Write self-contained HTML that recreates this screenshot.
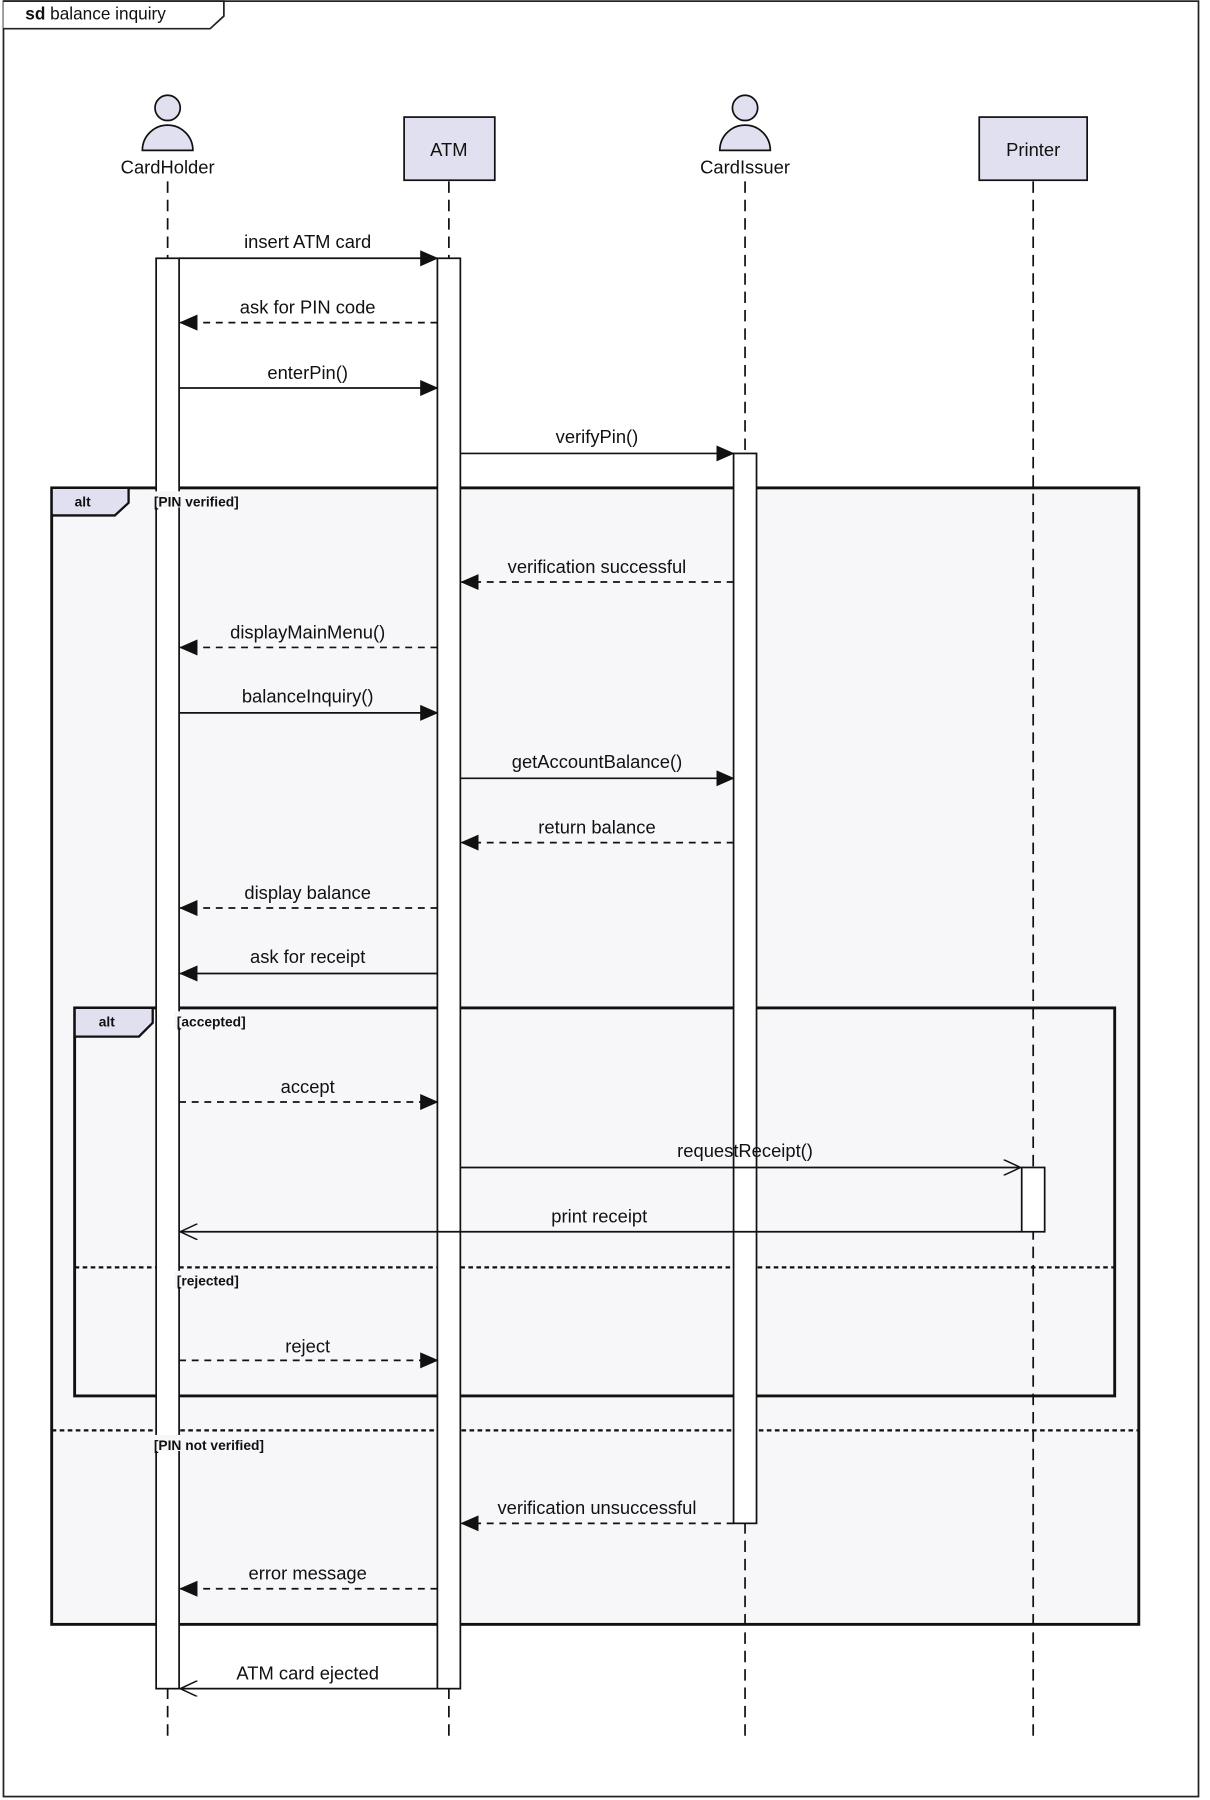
<!DOCTYPE html>
<html><head><meta charset="utf-8"><style>
html,body{margin:0;padding:0;background:#fff;}
svg{display:block;}
text{font-family:"Liberation Sans",sans-serif;fill:#111;}
</style></head><body>
<svg width="1210" height="1800" viewBox="0 0 1054 1568" xmlns="http://www.w3.org/2000/svg">
<defs>
<marker id="f" markerWidth="16" markerHeight="14" refX="15" refY="7" orient="auto" markerUnits="userSpaceOnUse"><path d="M0,0 L16,7 L0,14 z" fill="#111"/></marker>
<marker id="o" markerWidth="16" markerHeight="14" refX="15" refY="7" orient="auto" markerUnits="userSpaceOnUse"><path d="M0,0 L15,7 L0,14" fill="none" stroke="#111" stroke-width="1.3"/></marker>
</defs>
<rect x="3" y="1" width="1041" height="1564" fill="#fff" stroke="#222" stroke-width="1.5"/>
<path d="M3,1 H195 V14 L183,25 H3" fill="#fff" stroke="#222" stroke-width="1.5"/>
<text x="22" y="17" font-size="15"><tspan font-weight="bold">sd</tspan> balance inquiry</text>

<rect x="45" y="425" width="947" height="990" fill="#f7f7f9" stroke="#111" stroke-width="2.5"/>
<path d="M45,425 H112 V438 L100,449 H45 z" fill="#e1e0f0" stroke="#111" stroke-width="2"/>
<text x="65" y="441" font-size="12" font-weight="bold">alt</text>
<line x1="45" y1="1246" x2="992" y2="1246" stroke="#111" stroke-width="2" stroke-dasharray="4,3"/>
<rect x="65" y="878" width="906" height="338" fill="#f7f7f9" stroke="#111" stroke-width="2.5"/>
<path d="M65,878 H133 V891 L121,903 H65 z" fill="#e1e0f0" stroke="#111" stroke-width="2"/>
<text x="86" y="894" font-size="12" font-weight="bold">alt</text>
<line x1="65" y1="1104" x2="971" y2="1104" stroke="#111" stroke-width="2" stroke-dasharray="4,3"/>

<g stroke="#111" stroke-width="1.5" stroke-dasharray="10,6">
<line x1="146" y1="158" x2="146" y2="1516"/>
<line x1="391" y1="158" x2="391" y2="1516"/>
<line x1="649" y1="158" x2="649" y2="1516"/>
<line x1="900" y1="158" x2="900" y2="1516"/>
</g>

<g fill="#e1e0f0" stroke="#111" stroke-width="1.5">
<circle cx="146" cy="94" r="11"/>
<path d="M124,131 A22,22 0 0 1 168,131 z"/>
<circle cx="649" cy="94" r="11"/>
<path d="M627,131 A22,22 0 0 1 671,131 z"/>
<rect x="352" y="102" width="79" height="55"/>
<rect x="853" y="102" width="94" height="55"/>
</g>
<g font-size="16" text-anchor="middle">
<text x="146" y="151">CardHolder</text>
<text x="391" y="136">ATM</text>
<text x="649" y="151">CardIssuer</text>
<text x="900" y="136">Printer</text>
</g>

<g fill="#fff" stroke="#111" stroke-width="1.5">
<rect x="136" y="225" width="20" height="1246"/>
<rect x="381" y="225" width="20" height="1246"/>
<rect x="639" y="395" width="20" height="932"/>
<rect x="890" y="1017" width="20" height="56"/>
</g>

<g font-size="12" font-weight="bold">
<rect x="132" y="428" width="88" height="14" fill="#f7f7f9"/><text x="134" y="441">[PIN verified]</text>
<rect x="152" y="881" width="72" height="14" fill="#f7f7f9"/><text x="154" y="894">[accepted]</text>
<rect x="152" y="1107" width="66" height="14" fill="#f7f7f9"/><text x="154" y="1120">[rejected]</text>
<rect x="132" y="1250" width="112" height="14" fill="#f7f7f9"/><text x="134" y="1263">[PIN not verified]</text>
</g>

<g stroke="#111" stroke-width="1.5" fill="none">
<line x1="156" y1="225" x2="381" y2="225" marker-end="url(#f)"/>
<line x1="381" y1="281" x2="157" y2="281" stroke-dasharray="6,5" marker-end="url(#f)"/>
<line x1="156" y1="338" x2="381" y2="338" marker-end="url(#f)"/>
<line x1="401" y1="395" x2="639" y2="395" marker-end="url(#f)"/>
<line x1="639" y1="507" x2="402" y2="507" stroke-dasharray="6,5" marker-end="url(#f)"/>
<line x1="381" y1="564" x2="157" y2="564" stroke-dasharray="6,5" marker-end="url(#f)"/>
<line x1="156" y1="621" x2="381" y2="621" marker-end="url(#f)"/>
<line x1="401" y1="678" x2="639" y2="678" marker-end="url(#f)"/>
<line x1="639" y1="734" x2="402" y2="734" stroke-dasharray="6,5" marker-end="url(#f)"/>
<line x1="381" y1="791" x2="157" y2="791" stroke-dasharray="6,5" marker-end="url(#f)"/>
<line x1="381" y1="848" x2="157" y2="848" marker-end="url(#f)"/>
<line x1="156" y1="960" x2="381" y2="960" stroke-dasharray="6,5" marker-end="url(#f)"/>
<line x1="401" y1="1017" x2="889" y2="1017" marker-end="url(#o)"/>
<line x1="890" y1="1073" x2="157" y2="1073" marker-end="url(#o)"/>
<line x1="156" y1="1185" x2="381" y2="1185" stroke-dasharray="6,5" marker-end="url(#f)"/>
<line x1="639" y1="1327" x2="402" y2="1327" stroke-dasharray="6,5" marker-end="url(#f)"/>
<line x1="381" y1="1384" x2="157" y2="1384" stroke-dasharray="6,5" marker-end="url(#f)"/>
<line x1="381" y1="1471" x2="157" y2="1471" marker-end="url(#o)"/>
</g>
<g font-size="16" text-anchor="middle">
<text x="268" y="216">insert ATM card</text>
<text x="268" y="273">ask for PIN code</text>
<text x="268" y="330">enterPin()</text>
<text x="520" y="386">verifyPin()</text>
<text x="520" y="499">verification successful</text>
<text x="268" y="556">displayMainMenu()</text>
<text x="268" y="612">balanceInquiry()</text>
<text x="520" y="669">getAccountBalance()</text>
<text x="520" y="726">return balance</text>
<text x="268" y="783">display balance</text>
<text x="268" y="839">ask for receipt</text>
<text x="268" y="952">accept</text>
<text x="649" y="1008">requestReceipt()</text>
<text x="522" y="1065">print receipt</text>
<text x="268" y="1178">reject</text>
<text x="520" y="1319">verification unsuccessful</text>
<text x="268" y="1376">error message</text>
<text x="268" y="1463">ATM card ejected</text>
</g>
</svg>
</body></html>
